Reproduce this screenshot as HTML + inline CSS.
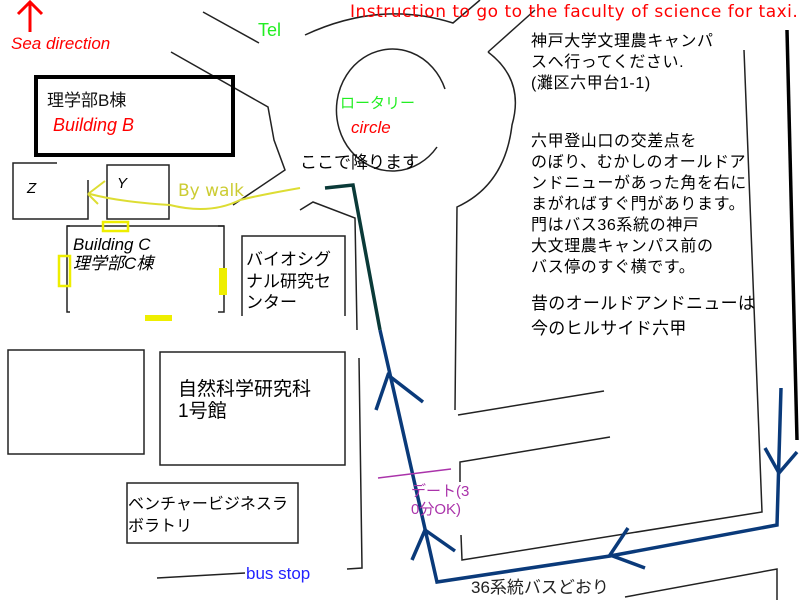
<!DOCTYPE html>
<html><head><meta charset="utf-8"><style>
html,body{margin:0;padding:0;background:#fff;}
svg{display:block;font-family:"Liberation Sans","Noto Sans CJK JP",sans-serif;}
</style></head><body>
<svg width="800" height="600" viewBox="0 0 800 600" xmlns="http://www.w3.org/2000/svg">
<g fill="none" stroke="#222" stroke-width="1.5">
<line x1="203" y1="12" x2="259" y2="43"/>
<polyline points="171,52 268,107 274,140 285,170 233,205"/>
<path d="M305,35 Q380,0 453,23 L480,0"/>
<line x1="488" y1="52" x2="535" y2="10"/>
<path d="M488,52 Q525,80 512,125 Q505,185 457,207 L455,410"/>
<path d="M445,89 A56,61 0 1 0 437,147"/>
<line x1="458" y1="415" x2="604" y2="391"/>
<polyline points="460,482 460,462 610,437"/>
<polyline points="461,535 462,560 762,512 744,50"/>
<polyline points="625,597 777,569 777,600"/>
<polyline points="300,210 313,202 355,218 357,330"/>
<polyline points="359,358 362,568 347,569"/>
<polyline points="157,578 245,573"/>
<polyline points="57,163 13,163 13,219 88,219 88,180"/>
<rect x="107" y="165" width="62" height="54"/>
<polyline points="70,226 67,226 67,312 70,312"/>
<polyline points="218,226 224,226 224,312 218,312"/>
<line x1="67" y1="226" x2="224" y2="226"/>
<polyline points="242,316 242,236 345,236 345,316"/>
<rect x="8" y="350" width="136" height="104"/>
<rect x="160" y="352" width="185" height="113"/>
<rect x="127" y="483" width="171" height="60"/>
</g>
<rect x="36" y="77" width="197" height="78" fill="none" stroke="#000" stroke-width="4"/>
<line x1="787" y1="30" x2="797" y2="440" stroke="#000" stroke-width="3.5"/>
<rect x="103" y="222" width="25" height="9" fill="none" stroke="#ee0" stroke-width="2.5"/>
<rect x="59" y="256" width="11" height="30" fill="none" stroke="#ee0" stroke-width="2.5"/>
<rect x="219" y="268" width="8" height="27" fill="#ee0"/>
<rect x="145" y="315" width="27" height="6" fill="#ee0"/>
<path d="M300,188 Q260,195 240,200 Q210,215 170,205 Q120,202 90,194 M88,194 L105,181 M88,194 L98,204" fill="none" stroke="#dd3" stroke-width="2"/>
<polyline points="325,188 353,185 380,330" fill="none" stroke="#0a3a38" stroke-width="3.5"/>
<polyline points="380,330 437,582 610,556 777,525 781,388" fill="none" stroke="#0a3a7a" stroke-width="3.5"/>
<polyline points="376,410 388,375 423,402" fill="none" stroke="#0a3a7a" stroke-width="3.5"/>
<polyline points="412,560 425,530 455,551" fill="none" stroke="#0a3a7a" stroke-width="3.5"/>
<polyline points="628,528 610,555 645,568" fill="none" stroke="#0a3a7a" stroke-width="3.5"/>
<polyline points="765,448 779,473 797,452" fill="none" stroke="#0a3a7a" stroke-width="3.5"/>
<line x1="378" y1="478" x2="451" y2="469" stroke="#a3a" stroke-width="1.5"/>
<path d="M30,32 L30,2 M18,14 L30,2 L42,14" fill="none" stroke="#f00" stroke-width="3"/>
<g font-size="15">
<text x="350" y="17" fill="#f00" font-family="DejaVu Sans,sans-serif" font-size="17" letter-spacing="0.5">Instruction to go to the faculty of science for taxi.</text>
<text x="11" y="49" fill="#f00" font-style="italic" font-size="17">Sea direction</text>
<text x="258" y="36" fill="#2e2" font-size="18">Tel</text>
<text x="47" y="106" fill="#111" font-size="17">理学部B棟</text>
<text x="53" y="131" fill="#f00" font-style="italic" font-size="18">Building  B</text>
<text x="340" y="108" fill="#2e2">ロータリー</text>
<text x="351" y="133" fill="#f00" font-style="italic" font-size="17">circle</text>
<text x="300" y="168" fill="#000" font-size="17">ここで降ります</text>
<text x="178" y="196" fill="#cc3" font-family="DejaVu Sans,sans-serif" font-size="17">By walk</text>
<text x="27" y="193" font-style="italic">Z</text>
<text x="117" y="188" font-style="italic">Y</text>
<text x="73" y="250" font-style="italic" font-size="17">Building C</text>
<text x="73" y="269" font-style="italic" font-size="17">理学部C棟</text>
<text x="246" y="265" font-size="17">バイオシグ</text>
<text x="246" y="287" font-size="17">ナル研究セ</text>
<text x="246" y="308" font-size="17">ンター</text>
<g font-size="16" letter-spacing="0.6">
<text x="531" y="46">神戸大学文理農キャンパ</text>
<text x="531" y="67">スへ行ってください.</text>
<text x="531" y="88">(灘区六甲台1-1)</text>
<text x="531" y="146">六甲登山口の交差点を</text>
<text x="531" y="167">のぼり、むかしのオールドア</text>
<text x="531" y="188">ンドニューがあった角を右に</text>
<text x="531" y="209">まがればすぐ門があります。</text>
<text x="531" y="230">門はバス36系統の神戸</text>
<text x="531" y="251">大文理農キャンパス前の</text>
<text x="531" y="272">バス停のすぐ横です。</text>
</g>
<text x="531" y="309" font-size="17" letter-spacing="0.3">昔のオールドアンドニューは</text>
<text x="531" y="334" font-size="17" letter-spacing="0.3">今のヒルサイド六甲</text>
<text x="178" y="395" font-size="19">自然科学研究科</text>
<text x="178" y="417" font-size="19">1号館</text>
<text x="128" y="509" font-size="16">ベンチャービジネスラ</text>
<text x="128" y="531" font-size="16">ボラトリ</text>
<text x="246" y="579" fill="#22f" font-size="17">bus stop</text>
<text x="411" y="496" fill="#a3a">デート(3</text>
<text x="411" y="514" fill="#a3a">0分OK)</text>
<text x="471" y="593" fill="#222" font-size="17">36系統バスどおり</text>
</g>
</svg>
</body></html>
